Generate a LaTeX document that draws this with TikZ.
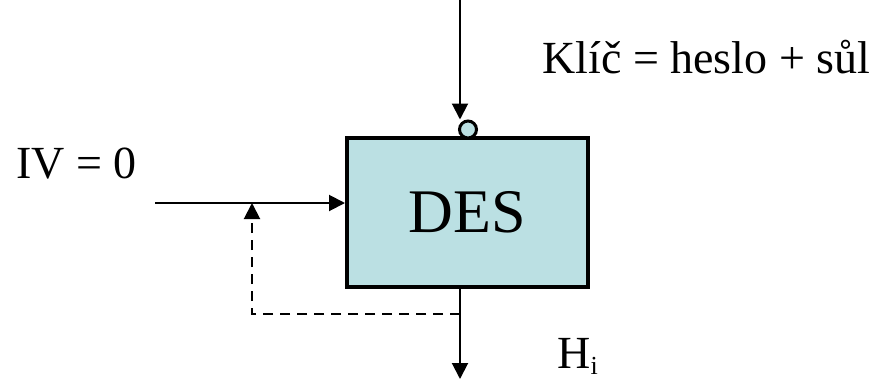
\documentclass[tikz,border=0pt]{standalone}
\usepackage{fontspec}
\setmainfont{Liberation Serif}
\usetikzlibrary{arrows.meta}
\definecolor{desfill}{HTML}{BBE0E3}
\begin{document}
\begin{tikzpicture}[x=0.5pt, y=-0.5pt,
cipher/.style={draw, line width=2pt, fill=desfill, minimum width=120.5pt, minimum height=74.5pt, font=\fontsize{31}{36}\selectfont},
ring/.style={draw, circle, line width=1.5pt, fill=desfill, inner sep=0pt, minimum size=8.5pt},
label/.style={anchor=base west, inner sep=0pt, font=\fontsize{23}{27}\selectfont},
arrow/.style={-{Triangle[length=8pt,width=8pt]}, line width=1pt},
feedback/.style={arrow, dash pattern=on 5pt off 3.5pt}
]
\useasboundingbox (0,0) rectangle (885,381);
\node[cipher] (des) at (467.5,212.5) {DES};
\node[ring] (ring) at (468,129.5) {};
\node[label] (iv) at (16,178) {IV = 0};
\node[label] (key) at (542,73) {Klíč = heslo + sůl};
\node[label] (hash) at (557,368) {H\raisebox{-0.3ex}{\fontsize{13}{15}\selectfont i}};
\coordinate (keytop) at (460,0);
\coordinate (ivstart) at (155,203);
\coordinate (hout) at (460,379);
\coordinate (fb) at (252,314);
\draw[arrow] (keytop) -- (keytop |- ring.north);
\draw[arrow] (ivstart) -- (ivstart -| des.west);
\draw[arrow] (des.south -| hout) -- (hout);
\draw[feedback] (hout |- fb) -- (fb) -- (fb |- ivstart);
\end{tikzpicture}
\end{document}
